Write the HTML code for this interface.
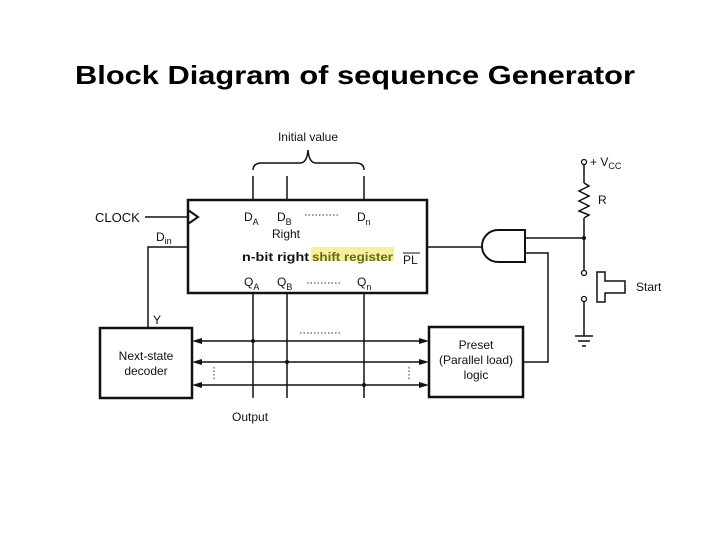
<!DOCTYPE html>
<html><head><style>body{margin:0;background:#fff}svg{display:block}</style></head><body>
<svg width="720" height="540" viewBox="0 0 720 540" xmlns="http://www.w3.org/2000/svg" font-family="Liberation Sans, sans-serif">
<rect width="720" height="540" fill="#fff"/>
<text x="355" y="84" font-size="26" font-weight="bold" text-anchor="middle" textLength="560" lengthAdjust="spacingAndGlyphs" fill="#000">Block Diagram of sequence Generator</text>
<g stroke="#111" fill="none" stroke-width="1.5">
<rect x="188" y="200" width="239" height="93" stroke-width="2.5"/>
<path d="M188,210 L198,217 L188,224" stroke-width="2"/>
<line x1="145" y1="217" x2="188" y2="217"/>
<line x1="253" y1="176" x2="253" y2="200"/><line x1="287" y1="176" x2="287" y2="200"/><line x1="364" y1="176" x2="364" y2="200"/>
<path d="M253,170 Q253,163 262,163 L300,163 Q307,163 308,150 Q309,163 316,163 L356,163 Q364,163 364,170"/>
<polyline points="188,247 148,247 148,328"/>
<rect x="100" y="328" width="92" height="70" stroke-width="2.5"/>
<rect x="429" y="327" width="94" height="70" stroke-width="2.5"/>
<line x1="253" y1="293" x2="253" y2="398"/><line x1="287" y1="293" x2="287" y2="398"/><line x1="364" y1="293" x2="364" y2="398"/>
<line x1="196" y1="341" x2="425" y2="341"/><line x1="196" y1="362" x2="425" y2="362"/><line x1="196" y1="385" x2="425" y2="385"/>
<path d="M525,230 L498,230 A16,16 0 0 0 498,262 L525,262 Z" stroke-width="2"/>
<line x1="427" y1="247" x2="482" y2="247"/>
<line x1="525" y1="238" x2="584" y2="238"/>
<polyline points="525,253 548,253 548,362 523,362"/>
<line x1="584" y1="165" x2="584" y2="183"/>
<polyline points="584,183 589,186 579,191 589,196 579,201 589,206 579,211 589,215 584,218"/>
<line x1="584" y1="218" x2="584" y2="270"/>
<line x1="584" y1="302" x2="584" y2="336"/>
<line x1="575" y1="336" x2="593" y2="336"/><line x1="578" y1="341" x2="590" y2="341"/><line x1="582" y1="346" x2="586" y2="346"/>
<path d="M597,272 L605,272 L605,281 L625,281 L625,293 L605,293 L605,302 L597,302 Z"/>
<circle cx="584" cy="162" r="2.5" stroke-width="1.3" fill="#fff"/>
<circle cx="584" cy="273" r="2.5" stroke-width="1.3" fill="#fff"/>
<circle cx="584" cy="299" r="2.5" stroke-width="1.3" fill="#fff"/>
</g>
<g fill="#111">
<circle cx="253" cy="341" r="2"/><circle cx="287" cy="362" r="2"/><circle cx="364" cy="385" r="2"/><circle cx="584" cy="238" r="2"/>
<path d="M192,341 l10,-3 v6z M192,362 l10,-3 v6z M192,385 l10,-3 v6z"/>
<path d="M429,341 l-10,-3 v6z M429,362 l-10,-3 v6z M429,385 l-10,-3 v6z"/>
</g>
<g stroke="#333" stroke-dasharray="1.5,2" stroke-width="1">
<line x1="305" y1="215" x2="340" y2="215"/><line x1="307" y1="283" x2="342" y2="283"/><line x1="300" y1="333" x2="340" y2="333"/>
<line x1="214" y1="367" x2="214" y2="381"/><line x1="409" y1="367" x2="409" y2="381"/>
</g>
<rect x="311" y="247" width="83" height="14" fill="#f4f0a0"/>
<g font-size="12" fill="#111">
<text x="308" y="141" text-anchor="middle">Initial value</text>
<text x="95" y="222" font-size="13">CLOCK</text>
<text x="156" y="241">D<tspan font-size="9" dy="3">in</tspan></text>
<text x="244" y="221">D<tspan font-size="9" dy="4">A</tspan></text>
<text x="277" y="221">D<tspan font-size="9" dy="4">B</tspan></text>
<text x="357" y="221">D<tspan font-size="9" dy="4">n</tspan></text>
<text x="272" y="238">Right</text>
<text x="242" y="261" font-weight="bold" textLength="67" lengthAdjust="spacingAndGlyphs">n-bit right</text>
<text x="312" y="261" font-weight="bold" fill="#6a6a10" textLength="81" lengthAdjust="spacingAndGlyphs">shift register</text>
<text x="403" y="264">PL</text>
<text x="244" y="286">Q<tspan font-size="9" dy="4">A</tspan></text>
<text x="277" y="286">Q<tspan font-size="9" dy="4">B</tspan></text>
<text x="357" y="286">Q<tspan font-size="9" dy="4">n</tspan></text>
<text x="153" y="324">Y</text>
<text x="146" y="360" text-anchor="middle">Next-state</text>
<text x="146" y="375" text-anchor="middle">decoder</text>
<text x="476" y="349" text-anchor="middle">Preset</text>
<text x="476" y="364" text-anchor="middle">(Parallel load)</text>
<text x="476" y="379" text-anchor="middle">logic</text>
<text x="232" y="421">Output</text>
<text x="590" y="166">+ V<tspan font-size="9" dy="3">CC</tspan></text>
<text x="598" y="204">R</text>
<text x="636" y="291">Start</text>
</g>
<line x1="403" y1="253" x2="420" y2="253" stroke="#111" stroke-width="1"/>
</svg>
</body></html>
